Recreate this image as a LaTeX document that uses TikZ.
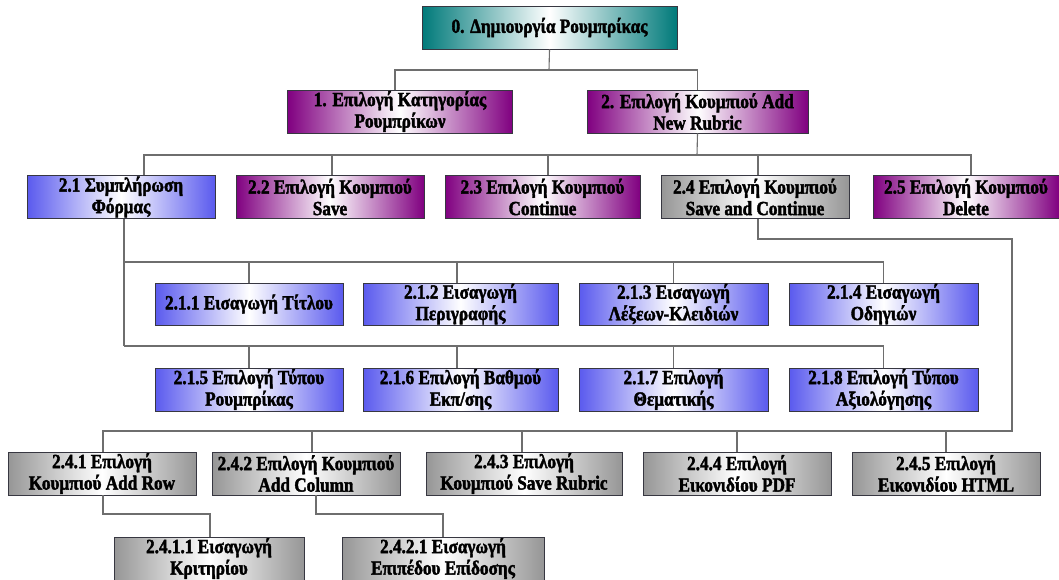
\documentclass[tikz,border=0pt]{standalone}
\usepackage{fontspec}
\setmainfont{Liberation Serif}
\newfontfamily\boxfont{Liberation Serif}[FakeStretch=0.86, BoldFeatures={FakeBold=2}]
\definecolor{tealc}{RGB}{0,122,122}
\definecolor{purplec}{RGB}{128,0,128}
\definecolor{bluec}{RGB}{90,90,238}
\definecolor{greyc}{RGB}{150,150,150}
\definecolor{linec}{RGB}{110,110,110}
\definecolor{borderc}{RGB}{55,55,65}
\tikzset{
  box/.style={draw=borderc, line width=0.8pt, inner sep=0pt, align=center,
    minimum height=43pt, font=\boxfont\fontsize{20}{21.5}\selectfont\bfseries, text=black},
  tealbox/.style={box, left color=tealc, right color=tealc, middle color=white},
  purplebox/.style={box, left color=purplec, right color=purplec, middle color=white},
  bluebox/.style={box, left color=bluec, right color=bluec, middle color=white},
  greybox/.style={box, left color=greyc, right color=greyc, middle color=white},
  conn/.style={draw=linec, line width=1.1pt}
}
\begin{document}
\begin{tikzpicture}[x=1pt,y=-1pt]
\useasboundingbox (0,0) rectangle (1059,579);
\clip (0,0) rectangle (1059,579);
\fill[white] (0,0) rectangle (1059,579);

% coordinates for junctions
\coordinate (j0) at (549,70);
\coordinate (j2) at (697,155);
\coordinate (j21a) at (124,262);
\coordinate (j21b) at (124,346);
\coordinate (k24) at (1012,239);
\coordinate (j24) at (1012,431);
\coordinate (e241) at (103,514);
\coordinate (e242) at (316,514);

% nodes
\node[tealbox, minimum width=255pt] (n0) at (549.5,27.5) {0. Δημιουργία Ρουμπρίκας};
\node[purplebox, minimum width=225pt] (n1) at (400,111.5) {1. Επιλογή Κατηγορίας\\Ρουμπρίκων};
\node[purplebox, minimum width=221pt] (n2) at (697.5,111.5) {2. Επιλογή Κουμπιού Add\\New Rubric};

\node[bluebox, minimum width=188pt] (n21) at (121,197) {2.1 Συμπλήρωση\\Φόρμας};
\node[purplebox, minimum width=188pt] (n22) at (330,197) {2.2 Επιλογή Κουμπιού\\Save};
\node[purplebox, minimum width=195pt] (n23) at (542.5,197) {2.3 Επιλογή Κουμπιού\\Continue};
\node[greybox, minimum width=188pt] (n24) at (755,197) {2.4 Επιλογή Κουμπιού\\Save and Continue};
\node[purplebox, minimum width=186pt] (n25) at (966,197) {2.5 Επιλογή Κουμπιού\\Delete};

\node[bluebox, minimum width=188pt, minimum height=42pt] (n211) at (249,304) {2.1.1 Εισαγωγή Τίτλου};
\node[bluebox, minimum width=195pt, minimum height=42pt] (n212) at (460.5,304) {2.1.2 Εισαγωγή\\Περιγραφής};
\node[bluebox, minimum width=189pt, minimum height=42pt] (n213) at (673.5,304) {2.1.3 Εισαγωγή\\Λέξεων-Κλειδιών};
\node[bluebox, minimum width=189pt, minimum height=42pt] (n214) at (883.5,304) {2.1.4 Εισαγωγή\\Οδηγιών};

\node[bluebox, minimum width=188pt] (n215) at (249,389.5) {2.1.5 Επιλογή Τύπου\\Ρουμπρίκας};
\node[bluebox, minimum width=195pt] (n216) at (460.5,389.5) {2.1.6 Επιλογή Βαθμού\\Εκπ/σης};
\node[bluebox, minimum width=189pt] (n217) at (673.5,389.5) {2.1.7 Επιλογή\\Θεματικής};
\node[bluebox, minimum width=189pt] (n218) at (883.5,389.5) {2.1.8 Επιλογή Τύπου\\Αξιολόγησης};

\node[greybox, minimum width=188pt] (n241) at (102,473.5) {2.4.1 Επιλογή\\Κουμπιού Add Row};
\node[greybox, minimum width=188pt] (n242) at (306,473.5) {2.4.2 Επιλογή Κουμπιού\\Add Column};
\node[greybox, minimum width=196pt] (n243) at (524,473.5) {2.4.3 Επιλογή\\Κουμπιού Save Rubric};
\node[greybox, minimum width=188pt] (n244) at (737,473.5) {2.4.4 Επιλογή\\Εικονιδίου PDF};
\node[greybox, minimum width=188pt] (n245) at (946,473.5) {2.4.5 Επιλογή\\Εικονιδίου HTML};

\node[greybox, minimum width=190pt] (n2411) at (209,558.5) {2.4.1.1 Εισαγωγή\\Κριτηρίου};
\node[greybox, minimum width=202pt] (n2421) at (443,558.5) {2.4.2.1 Εισαγωγή\\Επιπέδου Επίδοσης};

% connectors
\draw[conn] (n0.south) -- (j0);
\draw[conn] ([xshift=-5pt]n1.north) |- (j0) -| (n2.north);

\draw[conn] (n2.south) -- (j2);
\draw[conn] ([xshift=23pt]n21.north) |- (j2) -| ([xshift=5pt]n25.north);
\draw[conn] ([xshift=2pt]n22.north) -- ([xshift=2pt]n22.north |- j2);
\draw[conn] ([xshift=5.5pt]n23.north) -- ([xshift=5.5pt]n23.north |- j2);
\draw[conn] ([xshift=3pt]n24.north) -- ([xshift=3pt]n24.north |- j2);

\draw[conn] ([xshift=3pt]n21.south) -- (j21b);
\draw[conn] (j21a) -| (n214.north);
\draw[conn] (n211.north) -- (n211.north |- j21a);
\draw[conn] ([xshift=-3.5pt]n212.north) -- ([xshift=-3.5pt]n212.north |- j21a);
\draw[conn] (n213.north) -- (n213.north |- j21a);
\draw[conn] (j21b) -| (n218.north);
\draw[conn] (n215.north) -- (n215.north |- j21b);
\draw[conn] ([xshift=-3.5pt]n216.north) -- ([xshift=-3.5pt]n216.north |- j21b);
\draw[conn] (n217.north) -- (n217.north |- j21b);

\draw[conn] ([xshift=3pt]n24.south) |- (k24) -- (j24) -| ([xshift=1pt]n241.north);
\draw[conn] ([xshift=6pt]n242.north) -- ([xshift=6pt]n242.north |- j24);
\draw[conn] ([xshift=-2pt]n243.north) -- ([xshift=-2pt]n243.north |- j24);
\draw[conn] (n244.north) -- (n244.north |- j24);
\draw[conn] (n245.north) -- (n245.north |- j24);

\draw[conn] ([xshift=1pt]n241.south) -- (e241) -| ([xshift=1pt]n2411.north);
\draw[conn] ([xshift=10pt]n242.south) -- (e242) -| (n2421.north);
\end{tikzpicture}
\end{document}
